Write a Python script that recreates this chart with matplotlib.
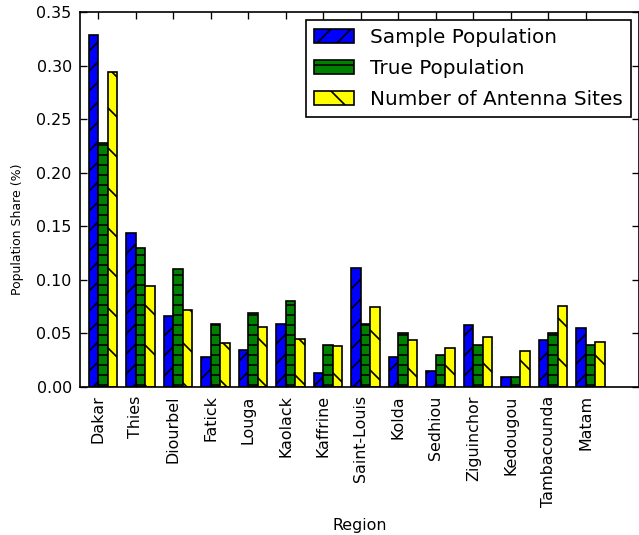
#Libraries
import matplotlib
matplotlib.use('Agg')
import matplotlib.pyplot as plt
import numpy as np

#Data
regions = ['Dakar', 'Thies', 'Diourbel', 'Fatick', 'Louga', 'Kaolack', 'Kaffrine',
           'Saint-Louis', 'Kolda', 'Sedhiou', 'Ziguinchor', 'Kedougou',
           'Tambacounda', 'Matam']
sample_pop = [0.329, 0.144, 0.066, 0.028, 0.035, 0.059, 0.013,
              0.111, 0.028, 0.015, 0.058, 0.009, 0.044, 0.055]
true_pop = [0.228, 0.130, 0.110, 0.059, 0.069, 0.080, 0.039,
            0.059, 0.050, 0.030, 0.039, 0.009, 0.050, 0.039]
antenna_sites = [0.294, 0.094, 0.072, 0.041, 0.056, 0.045, 0.038,
                 0.075, 0.044, 0.036, 0.047, 0.034, 0.076, 0.042]

#Constants
WIDTH = 0.25
plt.rcParams['hatch.linewidth'] = 1.0
plt.rcParams['xtick.direction'] = 'in'
plt.rcParams['ytick.direction'] = 'in'
plt.rcParams['xtick.top'] = True
plt.rcParams['ytick.right'] = True


def main():
    ##Figure
    fig = plt.figure(figsize=(639 / 120, 535 / 120), dpi=120)
    ax = fig.add_axes([80 / 639, 1 - 387 / 535, 1 - 80 / 639, (387 - 12) / 535])

    ##Bars
    index = np.arange(len(regions))
    ax.bar(index, sample_pop, WIDTH, align='edge', color='blue', edgecolor='black',
           linewidth=1, hatch='//', label='Sample Population')
    ax.bar(index + WIDTH, true_pop, WIDTH, align='edge', color='green', edgecolor='black',
           linewidth=1, hatch='--', label='True Population')
    ax.bar(index + 2 * WIDTH, antenna_sites, WIDTH, align='edge', color='yellow',
           edgecolor='black', linewidth=1, hatch='\\', label='Number of Antenna Sites')

    ##Axes
    ax.set_xlim(-0.24, 14.67)
    ax.set_ylim(0, 0.35)
    ax.set_yticks(np.arange(0, 0.351, 0.05))
    ax.set_yticklabels(['{:.2f}'.format(v) for v in np.arange(0, 0.351, 0.05)], fontsize=9.5)
    ax.set_xticks(index + WIDTH)
    ax.set_xticklabels(regions, rotation=90, fontsize=9.5)
    ax.tick_params(length=4, width=0.8, pad=5)
    ax.set_xlabel('Region', fontsize=9.5, labelpad=7)
    ax.set_ylabel('Population Share (%)', fontsize=7.5)
    ax.yaxis.set_label_coords(-0.1, 0.42)
    for s in ax.spines.values():
        s.set_linewidth(1)

    ##Legend
    leg = ax.legend(loc='upper right', fontsize=12, fancybox=False, framealpha=1,
                    borderaxespad=0.4, handlelength=2.0, labelspacing=0.6)
    leg.get_frame().set_edgecolor('black')

    fig.savefig('out.png', dpi=120, facecolor='white')
    plt.close()


#Execution
if __name__ == '__main__':
    main()
